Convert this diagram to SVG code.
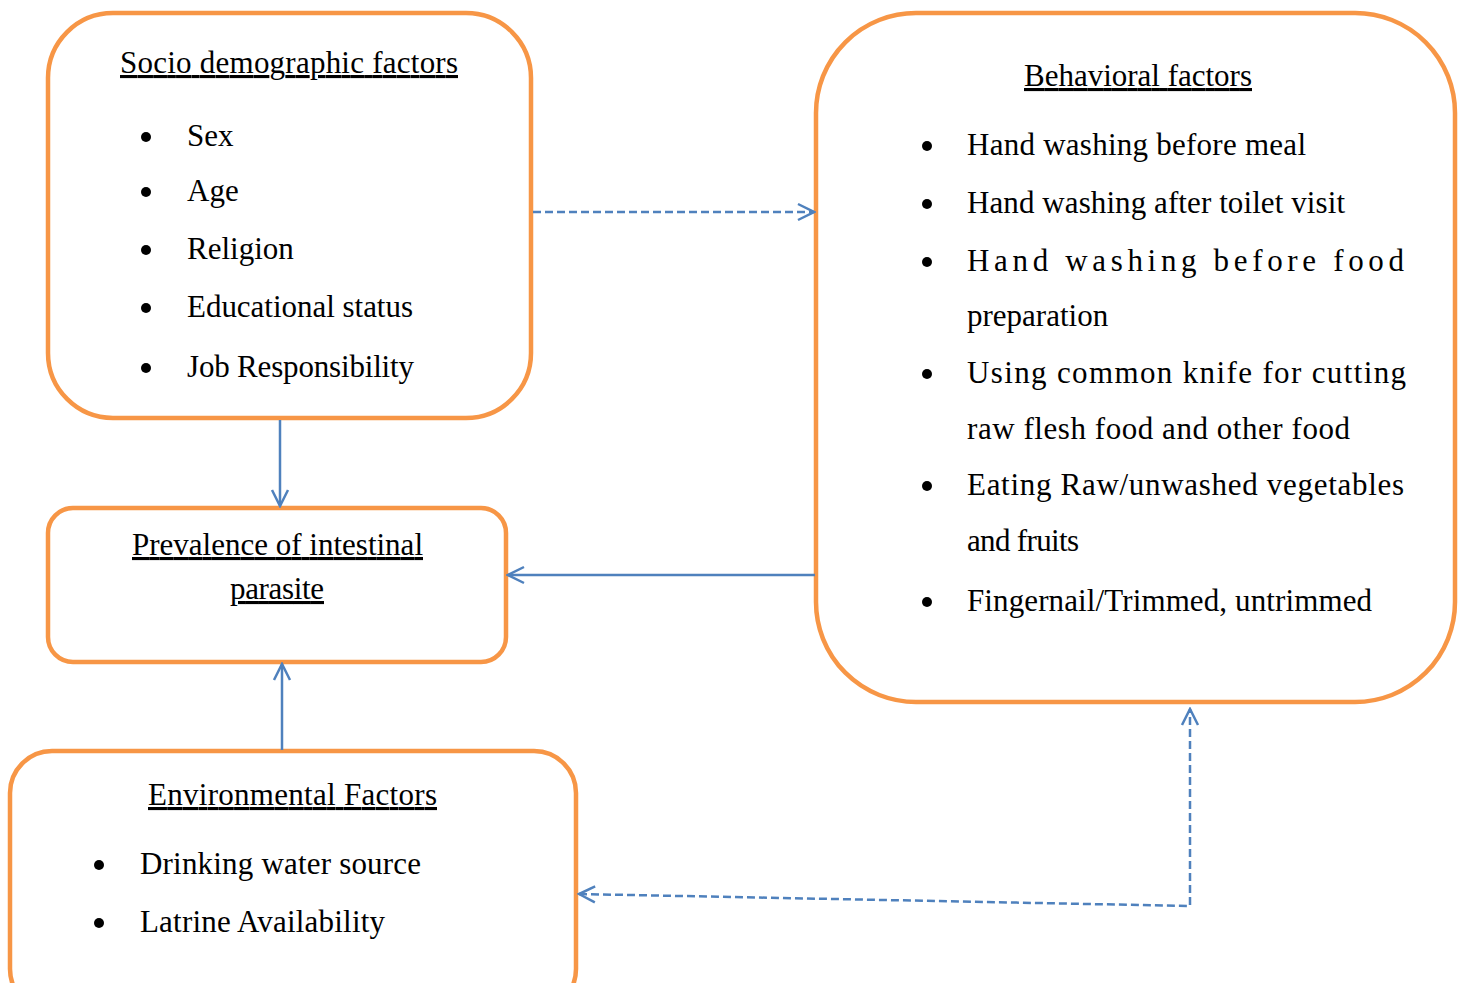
<svg xmlns="http://www.w3.org/2000/svg" width="1463" height="983" viewBox="0 0 1463 983">
<style>
.box{fill:#fff;stroke:#F79646;stroke-width:4.5}
.t{font-family:"Liberation Serif","Times New Roman",serif;font-size:31px;fill:#000}
.u{text-decoration:underline}
.dot{fill:#000}
.c{fill:none;stroke:#4F81BD;stroke-width:2.5}
.d{stroke-dasharray:8 4}
</style>
<defs>
<marker id="ah" viewBox="0 0 20 20" refX="18" refY="10" markerWidth="20" markerHeight="20" markerUnits="userSpaceOnUse" orient="auto-start-reverse">
<path d="M2,2 L18,10 L2,18" fill="none" stroke="#4F81BD" stroke-width="2.5"/>
</marker>
</defs>
<rect width="1463" height="983" fill="#fff"/>

<g id="socio">
<rect class="box" x="48" y="13" width="483" height="405" rx="65" ry="65"/>
<text class="t u" x="120" y="73" textLength="338" lengthAdjust="spacing">Socio demographic factors</text>
<circle class="dot" cx="146" cy="137" r="5"/>
<text class="t" x="187" y="146">Sex</text>
<circle class="dot" cx="146" cy="192" r="5"/>
<text class="t" x="187" y="201">Age</text>
<circle class="dot" cx="146" cy="250" r="5"/>
<text class="t" x="187" y="259">Religion</text>
<circle class="dot" cx="146" cy="308" r="5"/>
<text class="t" x="187" y="317" textLength="226" lengthAdjust="spacing">Educational status</text>
<circle class="dot" cx="146" cy="368" r="5"/>
<text class="t" x="187" y="377" textLength="227" lengthAdjust="spacing">Job Responsibility</text>
</g>

<g id="behavioral">
<rect class="box" x="816" y="13" width="639" height="689" rx="100" ry="100"/>
<text class="t u" x="1024" y="86" textLength="228" lengthAdjust="spacing">Behavioral factors</text>
<circle class="dot" cx="927" cy="146" r="5"/>
<text class="t" x="967" y="155" textLength="339" lengthAdjust="spacing">Hand washing before meal</text>
<circle class="dot" cx="927" cy="204" r="5"/>
<text class="t" x="967" y="213" textLength="378" lengthAdjust="spacing">Hand washing after toilet visit</text>
<circle class="dot" cx="927" cy="262" r="5"/>
<text class="t" x="967" y="271" textLength="437" lengthAdjust="spacing">Hand washing before food</text>
<text class="t" x="967" y="326">preparation</text>
<circle class="dot" cx="927" cy="374" r="5"/>
<text class="t" x="967" y="383" textLength="439" lengthAdjust="spacing">Using common knife for cutting</text>
<text class="t" x="967" y="439" textLength="383" lengthAdjust="spacing">raw flesh food and other food</text>
<circle class="dot" cx="927" cy="486" r="5"/>
<text class="t" x="967" y="495" textLength="437" lengthAdjust="spacing">Eating Raw/unwashed vegetables</text>
<text class="t" x="967" y="551" textLength="112" lengthAdjust="spacing">and fruits</text>
<circle class="dot" cx="927" cy="602" r="5"/>
<text class="t" x="967" y="611" textLength="405" lengthAdjust="spacing">Fingernail/Trimmed, untrimmed</text>
</g>

<g id="prevalence">
<rect class="box" x="48" y="508" width="458" height="154" rx="25" ry="25"/>
<text class="t u" x="132" y="555" textLength="291" lengthAdjust="spacing">Prevalence of intestinal</text>
<text class="t u" x="230" y="599" textLength="94" lengthAdjust="spacing">parasite</text>
</g>

<g id="environmental">
<rect class="box" x="10" y="751" width="566" height="260" rx="42" ry="42"/>
<text class="t u" x="148" y="805" textLength="289" lengthAdjust="spacing">Environmental Factors</text>
<circle class="dot" cx="99" cy="865" r="5"/>
<text class="t" x="140" y="874" textLength="281" lengthAdjust="spacing">Drinking water source</text>
<circle class="dot" cx="99" cy="923" r="5"/>
<text class="t" x="140" y="932" textLength="245" lengthAdjust="spacing">Latrine Availability</text>
</g>

<g id="connectors">
<path class="c d" d="M533,212 L814,212" marker-end="url(#ah)"/>
<path class="c" d="M280,420 L280,506" marker-end="url(#ah)"/>
<path class="c" d="M815,575 L508,575" marker-end="url(#ah)"/>
<path class="c" d="M282,750 L282,664" marker-end="url(#ah)"/>
<path class="c d" d="M579,894 L1190,906 L1190,709" marker-start="url(#ah)" marker-end="url(#ah)"/>
</g>
</svg>
